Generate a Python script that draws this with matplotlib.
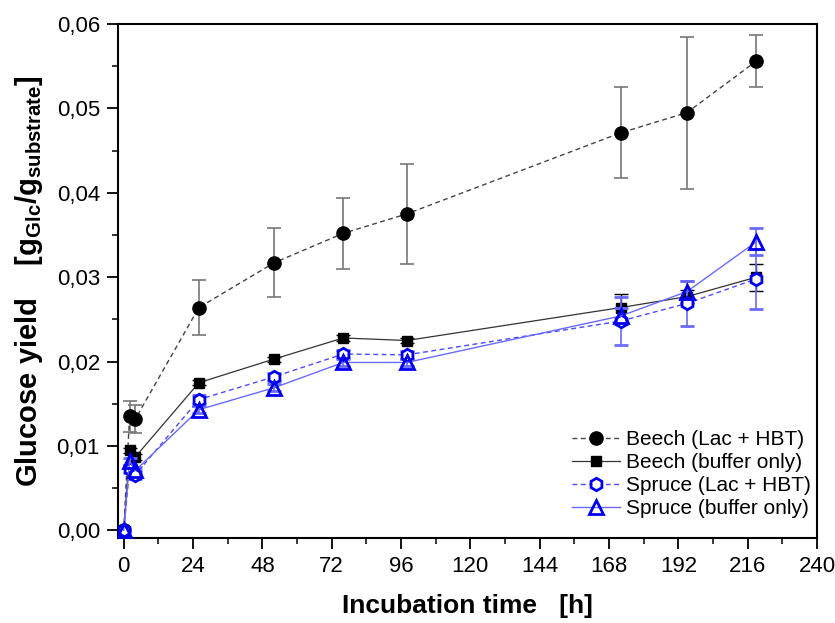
import matplotlib
matplotlib.use("Agg")
import matplotlib.pyplot as plt
from matplotlib.ticker import MultipleLocator, FuncFormatter

plt.rcParams['font.family'] = ['Liberation Sans', 'DejaVu Sans']
plt.rcParams['mathtext.fontset'] = 'custom'
plt.rcParams['mathtext.rm'] = 'Liberation Sans'
plt.rcParams['mathtext.bf'] = 'Liberation Sans:bold'
plt.rcParams['mathtext.it'] = 'Liberation Sans:italic'

time_h = [0, 2, 4, 26, 52, 76, 98, 172, 195, 219]

beech_lac = [0.0, 0.0135, 0.0132, 0.0264, 0.0317, 0.0352, 0.0375, 0.0471, 0.0495, 0.0556]
beech_lac_err = [0.0, 0.0018, 0.0017, 0.0033, 0.0041, 0.0042, 0.0059, 0.0054, 0.0090, 0.0031]

beech_buf = [0.0, 0.0095, 0.0087, 0.0175, 0.0203, 0.0228, 0.0225, 0.0264, 0.0277, 0.0300]
beech_buf_err = [0.0, 0.0003, 0.0003, 0.0003, 0.0003, 0.0003, 0.0003, 0.0016, 0.0008, 0.0016]

spruce_lac = [0.0, 0.0073, 0.0066, 0.0155, 0.0182, 0.0209, 0.0208, 0.0248, 0.0269, 0.0298]
spruce_lac_err = [0.0, 0.0005, 0.0005, 0.0005, 0.0005, 0.0005, 0.0005, 0.0028, 0.0027, 0.0036]

spruce_buf = [0.0, 0.0082, 0.0071, 0.0143, 0.0169, 0.0199, 0.0199, 0.0254, 0.0283, 0.0342]
spruce_buf_err = [0.0, 0.0004, 0.0004, 0.0004, 0.0004, 0.0004, 0.0004, 0.0010, 0.0013, 0.0016]

labels = ['Beech (Lac + HBT)', 'Beech (buffer only)', 'Spruce (Lac + HBT)', 'Spruce (buffer only)']

fig = plt.figure(figsize=(8.35, 6.23), dpi=100)
ax = fig.add_axes([0.1413, 0.1364, 0.8371, 0.8251])

handles = []
h = ax.errorbar(time_h, beech_lac, yerr=beech_lac_err, fmt='o', color='black',
                markersize=9.5, ecolor='#777777', elinewidth=1.2, capsize=5, capthick=1.2,
                linestyle=(0, (3.5, 2.5)), linewidth=1.0, label=labels[0], zorder=3)
h[0].set_color('#444444'); h[0].set_markerfacecolor('black'); h[0].set_markeredgecolor('black')
handles.append(h)
h = ax.errorbar(time_h, beech_buf, yerr=beech_buf_err, fmt='s', color='black',
                markersize=7.5, ecolor='black', elinewidth=1.0, capsize=5, capthick=1.0,
                linestyle='-', linewidth=0.9, label=labels[1], zorder=3)
h[0].set_color('#333333'); h[0].set_markerfacecolor('black'); h[0].set_markeredgecolor('black')
handles.append(h)
h = ax.errorbar(time_h, spruce_lac, yerr=spruce_lac_err, fmt='h', color='#4a4aff',
                markersize=9, markerfacecolor='white', markeredgecolor='#0000ee', markeredgewidth=2,
                ecolor='#6a6aff', elinewidth=1.2, capsize=5, capthick=1.2,
                linestyle=(0, (3.5, 2.5)), linewidth=1.0, label=labels[2], zorder=4)
handles.append(h)
h = ax.errorbar(time_h, spruce_buf, yerr=spruce_buf_err, fmt='^', color='#6a6aff',
                markersize=10, markerfacecolor='none', markeredgecolor='#0000ee', markeredgewidth=2,
                ecolor='#6a6aff', elinewidth=1.2, capsize=5, capthick=1.2,
                linestyle='-', linewidth=1.0, label=labels[3], zorder=4)
handles.append(h)

ax.set_xlim(-2, 240)
ax.set_ylim(-0.0009, 0.06)
ax.xaxis.set_major_locator(MultipleLocator(24))
ax.xaxis.set_minor_locator(MultipleLocator(12))
ax.yaxis.set_major_locator(MultipleLocator(0.01))
ax.yaxis.set_minor_locator(MultipleLocator(0.005))
ax.yaxis.set_major_formatter(FuncFormatter(lambda v, p: f"{v:.2f}".replace('.', ',')))
ax.tick_params(axis='both', which='major', direction='out', length=8, width=1.3, labelsize=16, pad=5)
ax.tick_params(axis='both', which='minor', direction='out', length=4.5, width=1.1)
for s in ax.spines.values():
    s.set_linewidth(1.5)

ax.set_xlabel('Incubation time   [h]', fontsize=19, fontweight='bold', labelpad=12)
ax.set_ylabel(r'Glucose yield    [$\mathbf{g_{Glc}/g_{substrate}}$]', fontsize=21, fontweight='bold', labelpad=8)

leg = ax.legend(handles=[hh[0] for hh in handles], labels=labels, loc='lower right',
                bbox_to_anchor=(0.997, 0.03), frameon=False, fontsize=15, handlelength=2.3,
                handletextpad=0.3, labelspacing=0.2, borderaxespad=0.0, borderpad=0.2)

fig.savefig('out.png', dpi=100)
